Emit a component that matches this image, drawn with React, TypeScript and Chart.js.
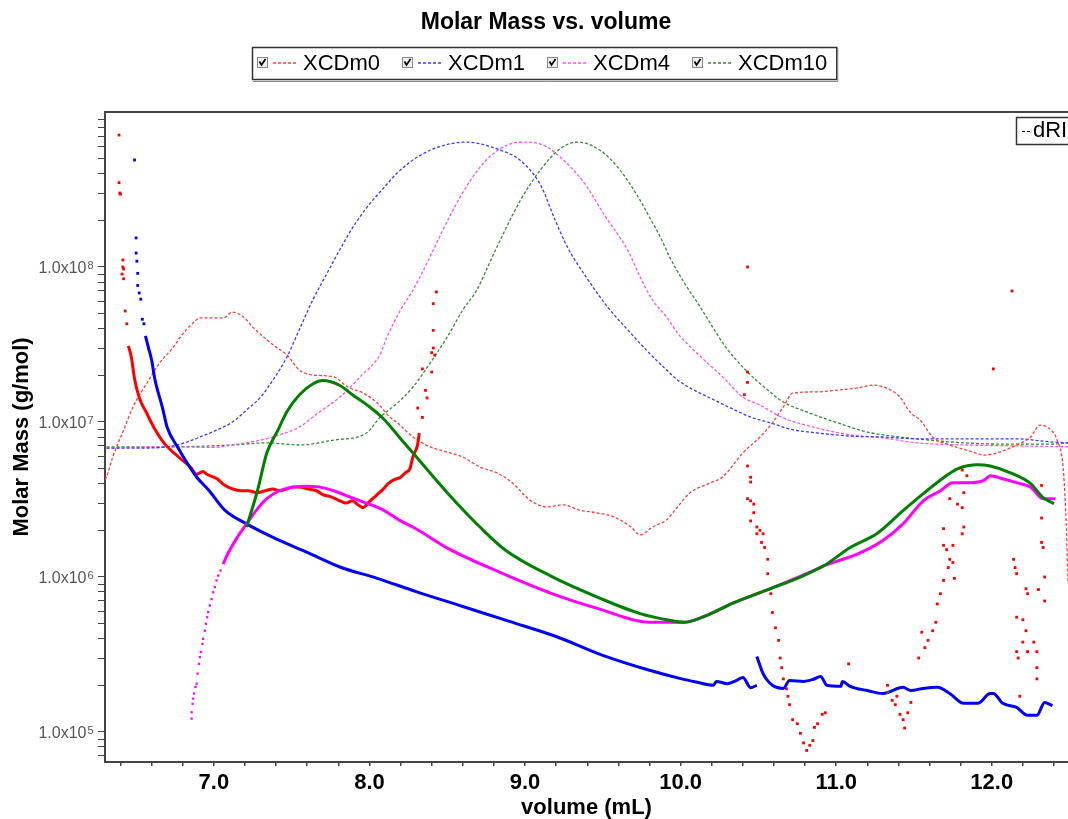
import React, { useEffect, useRef } from 'react';
import { Chart, registerables } from 'chart.js';

Chart.register(...registerables);

const FONT = '"Liberation Sans", Arial, Helvetica, sans-serif';

const TITLE = 'Molar Mass vs. volume';
const X_TITLE = 'volume (mL)';
const Y_TITLE = 'Molar Mass (g/mol)';
const SERIES_NAMES = ['XCDm0', 'XCDm1', 'XCDm4', 'XCDm10'];
const DRI_NAME = 'dRI';

// axis ranges / ticks
const X_MIN = 6.3;
const X_MAX = 12.49;
const X_STEP = 0.2;
const Y_MIN = 6.4e4;
const Y_MAX = 1e9;
const Y_LABEL_EXPONENTS = [5, 6, 7, 8];
const Y_MINOR_MANTISSAS = [1, 2, 3, 4, 5, 6, 7, 8, 9];
const Y_TICK_EXPONENTS = [4, 5, 6, 7, 8];
const DRI_MIN = -1.02;
const DRI_MAX = 1.098;

// ---------- XCDm0 (red) molar mass ----------
const m0Vol = [6.45, 6.47, 6.49, 6.52, 6.57, 6.62, 6.68, 6.76, 6.85, 6.89, 6.93, 6.955, 7.02, 7.07, 7.12, 7.17, 7.22, 7.28, 7.33, 7.38, 7.42, 7.47, 7.51, 7.55, 7.6, 7.66, 7.7, 7.75, 7.81, 7.85, 7.89, 7.93, 7.96, 7.99, 8.02, 8.05, 8.09, 8.12, 8.15, 8.2, 8.23, 8.26, 8.28, 8.31, 8.32];
const m0MM = [3.1e7, 2.6e7, 1.9e7, 1.44e7, 1.13e7, 9.0e6, 7.3e6, 6.1e6, 5.1e6, 4.6e6, 4.8e6, 4.6e6, 4.3e6, 3.9e6, 3.7e6, 3.6e6, 3.6e6, 3.5e6, 3.6e6, 3.7e6, 3.6e6, 3.7e6, 3.8e6, 3.8e6, 3.7e6, 3.6e6, 3.4e6, 3.3e6, 3.1e6, 3.0e6, 3.1e6, 2.9e6, 2.8e6, 3.0e6, 3.2e6, 3.4e6, 3.7e6, 4.0e6, 4.2e6, 4.4e6, 4.7e6, 5.0e6, 6.0e6, 7.2e6, 8.5e6];
const m0DotVol = [
  6.39, 6.39, 6.395, 6.4, 6.415, 6.415, 6.42, 6.41, 6.42, 6.43, 6.44,
  8.34, 8.31, 8.37, 8.36, 8.4, 8.34, 8.4, 8.42, 8.41, 8.41, 8.41, 8.43,
  10.43, 10.43, 10.43, 10.41, 10.43, 10.45, 10.45, 10.43, 10.45, 10.47, 10.47, 10.45, 10.49, 10.51, 10.49, 10.53, 10.52, 10.54, 10.56, 10.56, 10.58, 10.59, 10.61, 10.63, 10.64, 10.65, 10.66, 10.68, 10.69, 10.7, 10.72, 10.75, 10.77, 10.79, 10.81, 10.83, 10.85, 10.86, 10.88, 10.91, 10.93, 11.08,
  11.33, 11.33, 11.36, 11.38, 11.39, 11.41, 11.43, 11.44, 11.46, 11.48,
  11.53, 11.55, 11.57, 11.59, 11.62, 11.64, 11.65, 11.67, 11.69, 11.72, 11.75, 11.76, 11.69, 11.69, 11.71, 11.73, 11.75, 11.81, 11.82, 11.73, 11.78, 11.81, 11.82, 11.81, 11.84, 12.01,
  12.13, 12.14, 12.15, 12.16, 12.22, 12.23, 12.3, 12.34, 12.34, 12.16, 12.2, 12.22, 12.2, 12.16, 12.17, 12.23, 12.27, 12.29, 12.29, 12.29, 12.18, 12.32, 12.32, 12.32, 12.33,
];
const m0DotMM = [
  7.1e8, 3.5e8, 3.0e8, 2.95e8, 1.11e8, 1.0e8, 9.7e7, 9.0e7, 8.4e7, 5.2e7, 4.3e7,
  1.07e7, 1.23e7, 1.43e7, 1.6e7, 2.1e7, 2.2e7, 2.8e7, 2.7e7, 3.0e7, 3.9e7, 5.8e7, 6.9e7,
  1.0e8, 2.1e7, 1.8e7, 1.5e7, 5.2e6, 4.4e6, 4.1e6, 3.2e6, 3.1e6, 2.95e6, 2.6e6, 2.3e6, 2.1e6, 2.0e6, 1.9e6, 1.9e6, 1.67e6, 1.55e6, 1.3e6, 1.05e6, 7.8e5, 5.9e5, 4.7e5, 3.9e5, 3.0e5, 2.6e5, 2.2e5, 1.9e5, 1.7e5, 1.5e5, 1.2e5, 1.13e5, 9.8e4, 8.5e4, 7.6e4, 8.2e4, 8.8e4, 1.07e5, 1.13e5, 1.3e5, 1.33e5, 2.75e5,
  2.0e5, 1.8e5, 1.6e5, 1.5e5, 1.7e5, 1.3e5, 1.2e5, 1.06e5, 1.33e5, 1.55e5,
  3.0e5, 4.4e5, 3.5e5, 3.9e5, 4.5e5, 5.1e5, 6.7e5, 7.8e5, 9.5e5, 1.15e6, 1.24e6, 9.8e5, 2.05e6, 1.6e6, 1.5e6, 1.3e6, 1.6e6, 1.9e6, 2.1e6, 3.2e6, 2.95e6, 2.8e6, 3.5e6, 4.9e6, 4.5e6, 2.2e7,
  7.0e7, 1.3e6, 1.15e6, 1.05e6, 8.4e5, 7.8e5, 8.3e5, 1.0e6, 7.0e5, 5.5e5, 5.3e5, 4.5e5, 3.8e5, 3.3e5, 3.0e5, 3.3e5, 3.8e5, 3.3e5, 2.6e5, 2.2e5, 1.7e5, 3.9e6, 2.4e6, 1.67e6, 1.55e6,
];

// ---------- XCDm1 (blue) molar mass ----------
const m1DotVol = [6.49, 6.5, 6.5, 6.505, 6.51, 6.51, 6.52, 6.53, 6.54, 6.55];
const m1DotMM = [4.9e8, 1.54e8, 1.23e8, 1.09e8, 9.1e7, 7.6e7, 6.8e7, 6.2e7, 4.6e7, 4.3e7];
const m1Vol = [6.56, 6.58, 6.6, 6.62, 6.67, 6.7, 6.77, 6.83, 6.89, 6.97, 7.07, 7.21, 7.38, 7.6, 7.81, 8.05, 8.3, 8.6, 8.9, 9.2, 9.5, 9.8, 10.0, 10.1, 10.21, 10.23, 10.3, 10.36, 10.4, 10.45, 10.49];
const m1MM = [3.6e7, 3.0e7, 2.5e7, 1.9e7, 1.23e7, 9.2e6, 6.8e6, 5.4e6, 4.4e6, 3.6e6, 2.7e6, 2.2e6, 1.8e6, 1.44e6, 1.16e6, 9.8e5, 8.05e5, 6.45e5, 5.17e5, 4.13e5, 3.12e5, 2.5e5, 2.21e5, 2.1e5, 2.0e5, 2.12e5, 2.05e5, 2.15e5, 2.25e5, 1.93e5, 2.0e5];
const m1bVol = [10.49, 10.53, 10.59, 10.66, 10.7, 10.79, 10.85, 10.9, 10.94, 11.03, 11.04, 11.09, 11.2, 11.3, 11.43, 11.48, 11.56, 11.65, 11.73, 11.82, 11.91, 11.99, 12.01, 12.07, 12.16, 12.23, 12.29, 12.34, 12.39];
const m1bMM = [3.07e5, 2.38e5, 2.0e5, 1.91e5, 2.15e5, 2.12e5, 2.18e5, 2.28e5, 2.0e5, 1.97e5, 2.12e5, 1.97e5, 1.85e5, 1.77e5, 1.94e5, 1.85e5, 1.91e5, 1.94e5, 1.77e5, 1.53e5, 1.53e5, 1.77e5, 1.77e5, 1.53e5, 1.44e5, 1.28e5, 1.28e5, 1.55e5, 1.48e5];

// ---------- XCDm4 (magenta) molar mass ----------
const m4DotVol = [6.857, 6.857, 6.863, 6.867, 6.873, 6.882, 6.889, 6.895, 6.904, 6.91, 6.916, 6.927, 6.931, 6.942, 6.949, 6.957, 6.963, 6.974, 6.985, 6.996, 7.006, 7.017, 7.028, 7.043];
const m4DotMM = [1.22e5, 1.34e5, 1.52e5, 1.64e5, 1.77e5, 1.95e5, 2.05e5, 2.38e5, 2.75e5, 3.04e5, 3.28e5, 3.7e5, 3.99e5, 4.5e5, 4.99e5, 5.5e5, 5.93e5, 6.55e5, 7.2e5, 7.97e5, 8.6e5, 9.5e5, 1.02e6, 1.1e6];
const m4Vol = [7.06, 7.08, 7.15, 7.21, 7.28, 7.34, 7.42, 7.51, 7.6, 7.68, 7.77, 7.87, 7.98, 8.09, 8.2, 8.28, 8.52, 8.84, 9.16, 9.48, 9.8, 10.02, 10.14, 10.34, 10.59, 10.81, 10.94, 11.14, 11.3, 11.43, 11.56, 11.67, 11.75, 11.86, 11.95, 11.99, 12.07, 12.16, 12.25, 12.33, 12.41];
const m4MM = [1.21e6, 1.35e6, 1.8e6, 2.2e6, 2.75e6, 3.2e6, 3.6e6, 3.8e6, 3.85e6, 3.8e6, 3.6e6, 3.3e6, 3.0e6, 2.7e6, 2.3e6, 2.1e6, 1.5e6, 1.07e6, 7.9e5, 6.2e5, 5.1e5, 5.1e5, 5.5e5, 6.8e5, 8.5e5, 1.05e6, 1.2e6, 1.41e6, 1.72e6, 2.2e6, 3.1e6, 3.6e6, 4.06e6, 4.06e6, 4.2e6, 4.5e6, 4.3e6, 4.06e6, 3.8e6, 3.2e6, 3.2e6];

// ---------- XCDm10 (green) molar mass ----------
const m10Vol = [7.21, 7.28, 7.34, 7.41, 7.47, 7.55, 7.64, 7.7, 7.81, 7.89, 7.98, 8.09, 8.2, 8.28, 8.5, 8.71, 8.87, 9.16, 9.48, 9.74, 9.93, 10.02, 10.14, 10.34, 10.59, 10.75, 10.92, 11.09, 11.26, 11.43, 11.56, 11.69, 11.78, 11.91, 11.99, 12.12, 12.25, 12.33, 12.4];
const m10MM = [2.1e6, 3.6e6, 6.3e6, 8.8e6, 1.17e7, 1.5e7, 1.77e7, 1.85e7, 1.72e7, 1.5e7, 1.3e7, 1.05e7, 7.8e6, 6.3e6, 3.5e6, 2.1e6, 1.5e6, 1.02e6, 7.3e5, 5.8e5, 5.25e5, 5.1e5, 5.5e5, 6.8e5, 8.5e5, 9.8e5, 1.18e6, 1.55e6, 1.9e6, 2.68e6, 3.45e6, 4.37e6, 4.99e6, 5.3e6, 5.2e6, 4.7e6, 4.0e6, 3.25e6, 2.97e6];

// ---------- dRI traces (normalised) ----------
const dri0Vol = [6.3, 6.31, 6.35, 6.42, 6.48, 6.57, 6.65, 6.74, 6.78, 6.865, 6.91, 6.99, 7.06, 7.12, 7.19, 7.25, 7.32, 7.38, 7.47, 7.55, 7.64, 7.77, 7.86, 7.96, 8.05, 8.13, 8.18, 8.28, 8.39, 8.5, 8.6, 8.71, 8.82, 8.92, 9.03, 9.14, 9.24, 9.35, 9.46, 9.57, 9.68, 9.74, 9.82, 9.91, 9.98, 10.06, 10.19, 10.27, 10.4, 10.51, 10.59, 10.66, 10.72, 10.88, 11.01, 11.14, 11.24, 11.35, 11.41, 11.48, 11.54, 11.62, 11.73, 11.88, 11.95, 12.05, 12.16, 12.25, 12.31, 12.38, 12.42, 12.46, 12.48, 12.49];
const dri0Val = [-0.1, -0.091, -0.026, 0.062, 0.137, 0.215, 0.28, 0.332, 0.362, 0.41, 0.427, 0.427, 0.427, 0.446, 0.43, 0.397, 0.365, 0.339, 0.306, 0.257, 0.241, 0.235, 0.202, 0.182, 0.15, 0.104, 0.085, 0.039, 0.007, -0.01, -0.026, -0.059, -0.078, -0.111, -0.166, -0.189, -0.182, -0.199, -0.208, -0.221, -0.254, -0.28, -0.254, -0.231, -0.189, -0.143, -0.111, -0.091, -0.013, 0.039, 0.085, 0.137, 0.182, 0.186, 0.192, 0.199, 0.208, 0.192, 0.169, 0.117, 0.094, 0.039, 0.013, -0.01, -0.02, -0.01, 0.013, 0.039, 0.078, 0.062, 0.029, -0.068, -0.264, -0.43];

const dri1Vol = [6.31, 6.52, 6.7, 6.83, 6.91, 7.02, 7.12, 7.21, 7.3, 7.38, 7.47, 7.55, 7.64, 7.73, 7.81, 7.89, 7.98, 8.09, 8.18, 8.32, 8.45, 8.62, 8.84, 8.97, 9.1, 9.19, 9.27, 9.4, 9.53, 9.66, 9.78, 9.91, 9.98, 10.06, 10.19, 10.32, 10.45, 10.58, 10.7, 10.88, 11.09, 11.3, 11.52, 11.84, 12.16, 12.38, 12.49];
const dri1Val = [0.003, 0.003, 0.007, 0.023, 0.039, 0.062, 0.088, 0.127, 0.169, 0.225, 0.3, 0.39, 0.49, 0.575, 0.65, 0.72, 0.785, 0.85, 0.9, 0.955, 0.985, 1.0, 0.974, 0.94, 0.86, 0.75, 0.66, 0.555, 0.463, 0.388, 0.322, 0.257, 0.225, 0.199, 0.166, 0.134, 0.104, 0.085, 0.065, 0.052, 0.042, 0.039, 0.033, 0.033, 0.033, 0.023, 0.02];

const dri4Vol = [6.31, 6.7, 6.99, 7.12, 7.3, 7.42, 7.55, 7.68, 7.81, 7.94, 8.07, 8.11, 8.2, 8.28, 8.37, 8.41, 8.52, 8.65, 8.77, 8.9, 9.01, 9.13, 9.26, 9.39, 9.51, 9.66, 9.74, 9.82, 9.91, 9.98, 10.13, 10.27, 10.4, 10.51, 10.66, 10.88, 11.09, 11.3, 11.52, 11.84, 12.16, 12.49];
const dri4Val = [0.003, 0.007, 0.005, 0.013, 0.029, 0.046, 0.072, 0.121, 0.169, 0.235, 0.31, 0.362, 0.453, 0.518, 0.606, 0.648, 0.762, 0.876, 0.951, 0.993, 1.0, 0.987, 0.935, 0.86, 0.762, 0.648, 0.56, 0.485, 0.43, 0.378, 0.3, 0.235, 0.169, 0.143, 0.101, 0.068, 0.046, 0.036, 0.02, 0.013, 0.01, 0.007];

const dri10Vol = [6.31, 6.7, 7.12, 7.34, 7.55, 7.77, 7.98, 8.07, 8.18, 8.28, 8.39, 8.5, 8.6, 8.69, 8.76, 8.81, 8.97, 9.1, 9.23, 9.34, 9.48, 9.61, 9.74, 9.8, 9.87, 9.93, 10.02, 10.11, 10.19, 10.29, 10.43, 10.56, 10.66, 10.83, 11.01, 11.2, 11.41, 11.73, 12.05, 12.38, 12.49];
const dri10Val = [0.007, 0.007, 0.013, 0.02, 0.013, 0.029, 0.052, 0.104, 0.15, 0.202, 0.28, 0.365, 0.453, 0.518, 0.593, 0.648, 0.81, 0.91, 0.98, 1.0, 0.974, 0.909, 0.81, 0.755, 0.69, 0.625, 0.544, 0.475, 0.41, 0.332, 0.251, 0.192, 0.153, 0.117, 0.085, 0.055, 0.039, 0.023, 0.016, 0.016, 0.02];

const COLORS = {
  m0: '#ff0000',
  m1: '#0000ff',
  m4: '#ff00ff',
  m10: '#008000',
  d0: '#ff3c3c',
  d1: '#3a3aff',
  d4: '#ff4cff',
  d10: '#2f8f2f',
};

const pts = (xs: number[], ys: (number | null)[]) => xs.map((x, i) => ({ x, y: ys[i] }));

const yTickValues: number[] = [];
Y_TICK_EXPONENTS.forEach((e) => {
  Y_MINOR_MANTISSAS.forEach((m) => {
    const v = m * Math.pow(10, e);
    if (v >= Y_MIN && v <= Y_MAX) yTickValues.push(v);
  });
});

const decorPlugin = {
  id: 'decor',
  afterDraw(chart: any) {
    const ctx = chart.ctx as CanvasRenderingContext2D;
    const area = chart.chartArea;
    ctx.save();

    // top frame line
    ctx.strokeStyle = '#444';
    ctx.lineWidth = 2;
    ctx.beginPath();
    ctx.moveTo(area.left - 1, area.top);
    ctx.lineTo(area.right, area.top);
    ctx.stroke();

    // title
    ctx.fillStyle = '#000';
    ctx.font = `bold 23px ${FONT}`;
    ctx.textAlign = 'center';
    ctx.textBaseline = 'middle';
    ctx.fillText(TITLE, 546, 23);

    // legend box
    const colors = [COLORS.d0, COLORS.d1, COLORS.d4, COLORS.d10];
    ctx.font = `22px ${FONT}`;
    const cy = 63;
    let x = 257;
    const starts: number[] = [];
    SERIES_NAMES.forEach((name) => {
      starts.push(x);
      x = x + 46 + ctx.measureText(name).width + 22;
    });
    const boxRight = x - 22 + 9;
    ctx.fillStyle = '#fff';
    ctx.fillRect(252, 47, boxRight - 252, 33);
    ctx.strokeStyle = '#333';
    ctx.lineWidth = 1.5;
    ctx.strokeRect(252.5, 47.5, boxRight - 252, 32);
    ctx.strokeStyle = '#888';
    ctx.lineWidth = 1;
    ctx.beginPath();
    ctx.moveTo(253, 81.5);
    ctx.lineTo(boxRight + 1.5, 81.5);
    ctx.lineTo(boxRight + 1.5, 48);
    ctx.stroke();

    SERIES_NAMES.forEach((name, i) => {
      const sx = starts[i];
      ctx.fillStyle = '#eeeeee';
      ctx.fillRect(sx, cy - 6, 11, 11);
      ctx.strokeStyle = '#8a8a8a';
      ctx.lineWidth = 1;
      ctx.strokeRect(sx + 0.5, cy - 5.5, 10, 10);
      ctx.strokeStyle = '#000';
      ctx.lineWidth = 1.7;
      ctx.beginPath();
      ctx.moveTo(sx + 2.5, cy - 1.5);
      ctx.lineTo(sx + 4.5, cy + 2);
      ctx.lineTo(sx + 8.5, cy - 4);
      ctx.stroke();
      ctx.setLineDash([3, 2]);
      ctx.strokeStyle = colors[i];
      ctx.lineWidth = 1.5;
      ctx.beginPath();
      ctx.moveTo(sx + 16, cy);
      ctx.lineTo(sx + 39, cy);
      ctx.stroke();
      ctx.setLineDash([]);
      ctx.fillStyle = '#000';
      ctx.textAlign = 'left';
      ctx.textBaseline = 'middle';
      ctx.fillText(name, sx + 46, cy + 1);
    });

    // dRI legend box
    ctx.fillStyle = '#fff';
    ctx.fillRect(1016, 117, 60, 27);
    ctx.strokeStyle = '#333';
    ctx.lineWidth = 1.5;
    ctx.strokeRect(1016.5, 117.5, 60, 27);
    ctx.strokeStyle = '#000';
    ctx.lineWidth = 1;
    ctx.setLineDash([3, 2]);
    ctx.beginPath();
    ctx.moveTo(1022, 131.5);
    ctx.lineTo(1030, 131.5);
    ctx.stroke();
    ctx.setLineDash([]);
    ctx.fillStyle = '#000';
    ctx.font = `22px ${FONT}`;
    ctx.textAlign = 'left';
    ctx.textBaseline = 'middle';
    ctx.fillText(DRI_NAME, 1033, 131);

    // y tick labels with superscript exponents
    const ys = chart.scales.y;
    Y_LABEL_EXPONENTS.forEach((e) => {
      const py = ys.getPixelForValue(Math.pow(10, e));
      ctx.fillStyle = '#555';
      ctx.font = `16px ${FONT}`;
      ctx.textAlign = 'right';
      ctx.textBaseline = 'alphabetic';
      ctx.fillText('1.0x10', 86.5, py + 6);
      ctx.font = `11px ${FONT}`;
      ctx.textAlign = 'left';
      ctx.fillText(String(e), 87.5, py + 2);
    });

    ctx.restore();
  },
};

export default function App() {
  const ref = useRef<HTMLCanvasElement | null>(null);

  useEffect(() => {
    if (!ref.current) return;

    const lineDs = (label: string, data: any[], color: string, width: number) => ({
      label,
      data,
      borderColor: color,
      backgroundColor: color,
      borderWidth: width,
      pointRadius: 0,
      cubicInterpolationMode: 'monotone',
      fill: false,
      yAxisID: 'y',
    });
    const dotDs = (label: string, data: any[], color: string, r: number) => ({
      label,
      data,
      showLine: false,
      pointRadius: r,
      pointStyle: 'rect',
      pointBackgroundColor: color,
      pointBorderWidth: 0,
      borderColor: color,
      yAxisID: 'y',
    });
    const driDs = (label: string, data: any[], color: string) => ({
      label,
      data,
      borderColor: color,
      borderWidth: 1.3,
      borderDash: [3, 2],
      pointRadius: 0,
      cubicInterpolationMode: 'monotone',
      fill: false,
      yAxisID: 'y2',
    });

    const blueData = [...pts(m1Vol, m1MM), { x: m1bVol[0], y: null }, ...pts(m1bVol, m1bMM)];

    const chart = new Chart(ref.current, {
      type: 'line',
      data: {
        datasets: [
          dotDs(SERIES_NAMES[0], pts(m0DotVol, m0DotMM), COLORS.m0, 2),
          dotDs(SERIES_NAMES[1], pts(m1DotVol, m1DotMM), COLORS.m1, 2),
          dotDs(SERIES_NAMES[2], pts(m4DotVol, m4DotMM), COLORS.m4, 1.6),
          lineDs(SERIES_NAMES[3], pts(m10Vol, m10MM), COLORS.m10, 3),
          lineDs(SERIES_NAMES[2], pts(m4Vol, m4MM), COLORS.m4, 3),
          lineDs(SERIES_NAMES[1], blueData, COLORS.m1, 3),
          lineDs(SERIES_NAMES[0], pts(m0Vol, m0MM), COLORS.m0, 3),
          driDs(SERIES_NAMES[0] + ' dRI', pts(dri0Vol, dri0Val), COLORS.d0),
          driDs(SERIES_NAMES[1] + ' dRI', pts(dri1Vol, dri1Val), COLORS.d1),
          driDs(SERIES_NAMES[2] + ' dRI', pts(dri4Vol, dri4Val), COLORS.d4),
          driDs(SERIES_NAMES[3] + ' dRI', pts(dri10Vol, dri10Val), COLORS.d10),
        ] as any,
      },
      options: {
        responsive: false,
        maintainAspectRatio: false,
        animation: false,
        devicePixelRatio: 1,
        layout: { autoPadding: false, padding: { top: 112, left: 0, right: 0, bottom: 0 } },
        plugins: {
          legend: { display: false },
          title: { display: false },
          tooltip: { enabled: false },
        },
        scales: {
          x: {
            type: 'linear',
            min: X_MIN,
            max: X_MAX,
            afterFit: (s: any) => {
              s.height = 57;
              s.paddingLeft = 0;
              s.paddingRight = 0;
            },
            ticks: {
              stepSize: X_STEP,
              includeBounds: false,
              autoSkip: false,
              maxRotation: 0,
              minRotation: 0,
              padding: 4,
              color: '#000',
              font: { family: FONT, size: 22, weight: 'bold' },
              callback: (v: any) => {
                const n = Number(v);
                return Math.abs(n - Math.round(n)) < 1e-6 ? n.toFixed(1) : '';
              },
            },
            grid: { drawOnChartArea: false, drawTicks: true, tickLength: 4, color: '#444', lineWidth: 1.5 },
            border: { display: true, color: '#444', width: 2 },
            title: {
              display: true,
              text: X_TITLE,
              color: '#000',
              font: { family: FONT, size: 22, weight: 'bold', lineHeight: 1 },
              padding: { top: 0, bottom: 0 },
            },
          },
          y: {
            type: 'logarithmic',
            position: 'left',
            min: Y_MIN,
            max: Y_MAX,
            afterFit: (s: any) => {
              s.width = 105;
              s.paddingTop = 0;
              s.paddingBottom = 0;
            },
            afterBuildTicks: (s: any) => {
              s.ticks = yTickValues.map((v) => ({ value: v }));
            },
            ticks: { autoSkip: false, callback: () => '' },
            grid: { drawOnChartArea: false, drawTicks: true, tickLength: 7, color: '#444', lineWidth: 1 },
            border: { display: true, color: '#444', width: 2 },
            title: {
              display: true,
              text: Y_TITLE,
              color: '#000',
              font: { family: FONT, size: 22, weight: 'bold', lineHeight: 1 },
              padding: { top: 11, bottom: 0 },
            },
          },
          y2: {
            type: 'linear',
            display: false,
            min: DRI_MIN,
            max: DRI_MAX,
          },
        },
      } as any,
      plugins: [decorPlugin],
    });

    return () => chart.destroy();
  }, []);

  return (
    <div style={{ position: 'absolute', left: 0, top: 0, width: 1068, height: 819, background: '#fff' }}>
      <canvas ref={ref} width={1068} height={819} style={{ display: 'block', width: 1068, height: 819 }} />
    </div>
  );
}
